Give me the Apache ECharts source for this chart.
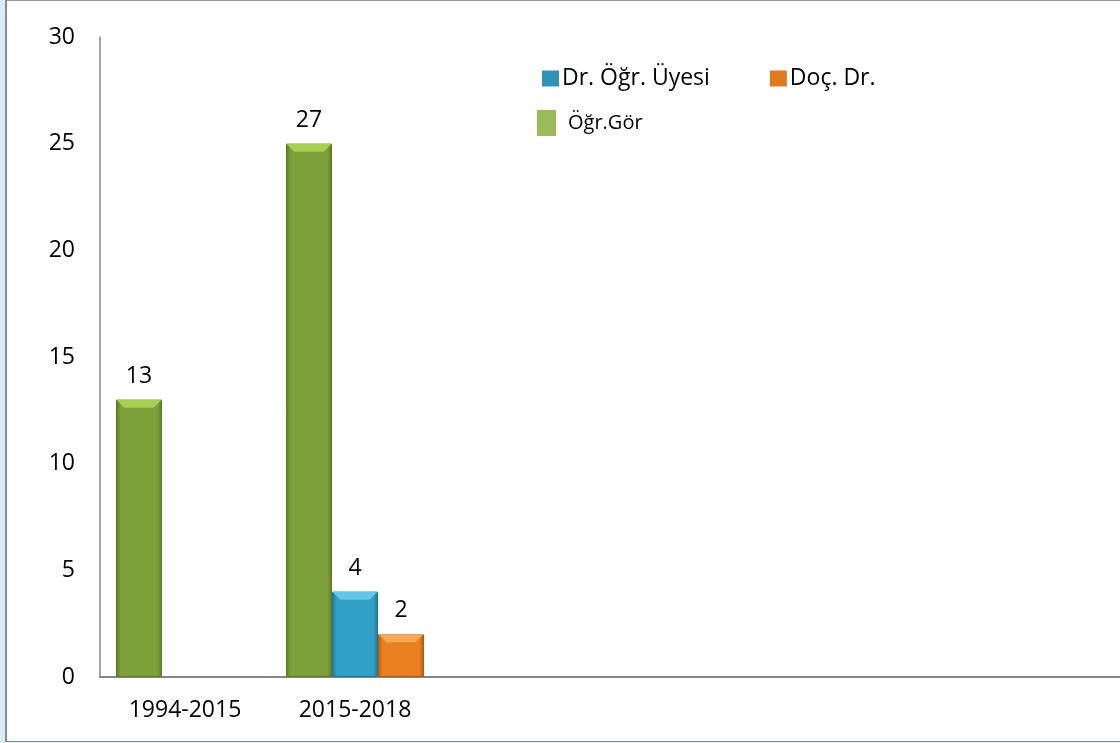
<!DOCTYPE html>
<html>
<head>
<meta charset="utf-8">
<style>
  html, body { margin: 0; padding: 0; }
  body { width: 1120px; height: 743px; background: #dcecf4; position: relative; overflow: hidden; }
  #frame { position: absolute; left: 5px; top: 0; width: 1115px; height: 742px; background: #fff;
           border-top: 1px solid #8a9aa6; border-left: 2px solid #8c8c8c; border-bottom: 1px solid #8c8c8c; box-sizing: border-box; }
  #chart { position: absolute; left: 0; top: 0; width: 1120px; height: 743px; }
</style>
<script src="https://cdn.jsdelivr.net/npm/echarts@6/dist/echarts.min.js"></script>
</head>
<body>
<div id="frame"></div>
<div id="chart"></div>
<script>
// kategoriler (sağdaki boş gruplar dahil)
const categories = ['1994-2015', '2015-2018', '', '', '', ''];
const yTicks = [0, 5, 10, 15, 20, 25, 30];

// seri değerleri
const gorValues = [13, 25, null, null, null, null];
const gorLabels = ['13', '27', '', '', '', ''];
const uyeValues = [null, 4, null, null, null, null];
const uyeLabels = ['', '4', '', '', '', ''];
const docValues = [null, 2, null, null, null, null];
const docLabels = ['', '2', '', '', '', ''];

const FONT = 'Open Sans';
const BAR_W = 46;

function grad(dark, body) {
  return new echarts.graphic.LinearGradient(0, 0, 1, 0, [
    { offset: 0, color: dark },
    { offset: 0.1, color: body },
    { offset: 0.9, color: body },
    { offset: 1, color: dark }
  ]);
}

const styles = {
  gor: { dark: '#5d7a28', body: '#7ea03a', top: '#a9cf52', legend: '#9bbb59' },
  uye: { dark: '#1f7595', body: '#31a0c6', top: '#62c6e8', legend: '#2f93b8' },
  doc: { dark: '#b35a10', body: '#e8801f', top: '#f8aa55', legend: '#e07a1e' }
};

function barSeries(name, values, labels, st) {
  return {
    name: name,
    type: 'bar',
    data: values,
    barWidth: BAR_W,
    barGap: '0%',
    itemStyle: { color: grad(st.dark, st.body), borderColor: st.dark, borderWidth: 1 },
    label: {
      show: true, position: 'top', distance: 12,
      fontFamily: FONT, fontSize: 23, color: '#000',
      formatter: p => labels[p.dataIndex]
    },
    z: 2
  };
}

// üst pah (bevel) efekti
function bevelSeries(name, values, st) {
  return {
    name: name + '_top',
    type: 'pictorialBar',
    data: values,
    barWidth: BAR_W,
    barGap: '0%',
    symbol: 'path://M0,0 L46,0 L38,8 L8,8 Z',
    symbolSize: [BAR_W - 1, 8],
    symbolPosition: 'end',
    itemStyle: { color: st.top },
    silent: true,
    z: 3
  };
}

const chart = echarts.init(document.getElementById('chart'));

chart.setOption({
  animation: false,
  grid: { left: 100, right: 0, top: 37, bottom: 66, containLabel: false },
  legend: [
    {
      data: [
        { name: 'Dr. Öğr. Üyesi', itemStyle: { color: styles.uye.legend, borderWidth: 0 } },
        { name: 'Doç. Dr.', itemStyle: { color: styles.doc.legend, borderWidth: 0 } }
      ],
      left: 542, top: 67, padding: 0,
      itemWidth: 17, itemHeight: 16, itemGap: 60,
      icon: 'rect',
      textStyle: { fontFamily: FONT, fontSize: 23, color: '#000', padding: [0, 0, 0, -2] }
    },
    {
      data: [{ name: 'Öğr.Gör', itemStyle: { color: styles.gor.legend, borderWidth: 0 } }],
      left: 537, top: 110, padding: 0,
      itemWidth: 19, itemHeight: 26,
      icon: 'rect',
      textStyle: { fontFamily: FONT, fontSize: 20, color: '#000', padding: [0, 0, 6, 7] }
    }
  ],
  xAxis: {
    type: 'category',
    data: categories,
    axisLine: { lineStyle: { color: '#868686', width: 2 } },
    axisTick: { show: false },
    axisLabel: { fontFamily: FONT, fontSize: 23, color: '#000', margin: 22, interval: 0 },
    splitLine: { show: false }
  },
  yAxis: {
    type: 'value',
    min: yTicks[0],
    max: yTicks[yTicks.length - 1],
    interval: yTicks[1] - yTicks[0],
    axisLine: { show: true, lineStyle: { color: '#868686', width: 1.5 } },
    axisTick: { show: false },
    splitLine: { show: false },
    axisLabel: { fontFamily: FONT, fontSize: 23, color: '#000', margin: 25 }
  },
  series: [
    barSeries('Öğr.Gör', gorValues, gorLabels, styles.gor),
    barSeries('Dr. Öğr. Üyesi', uyeValues, uyeLabels, styles.uye),
    barSeries('Doç. Dr.', docValues, docLabels, styles.doc),
    bevelSeries('gor', gorValues, styles.gor),
    bevelSeries('uye', uyeValues, styles.uye),
    bevelSeries('doc', docValues, styles.doc)
  ]
});
</script>
</body>
</html>
